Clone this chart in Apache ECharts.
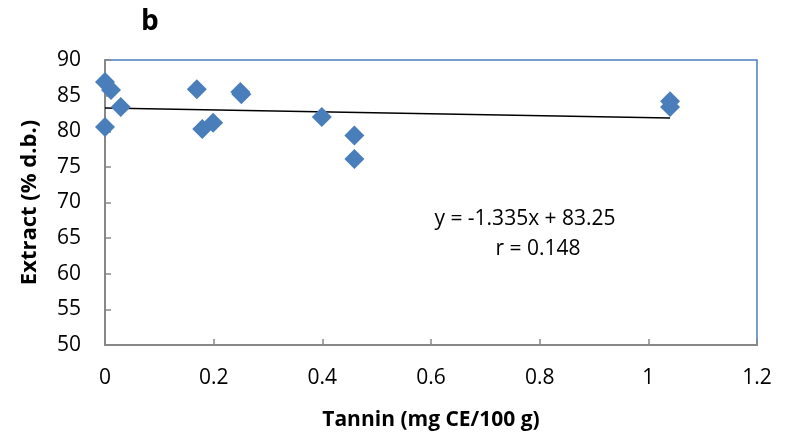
<!DOCTYPE html>
<html>
<head>
<meta charset="utf-8">
<script src="https://cdn.jsdelivr.net/npm/echarts@6/dist/echarts.min.js"></script>
<style>
  html, body { margin: 0; padding: 0; background: #fff; }
  #main { width: 787px; height: 440px; }
</style>
</head>
<body>
<div id="main"></div>
<script>
// tannin (x) vs extract (y)
var tannin = [0, 0.011, 0.029, 0, 0.169, 0.179, 0.199, 0.249, 0.251, 0.399, 0.459, 0.459, 1.04, 1.04];
var extract = [86.9, 85.8, 83.4, 80.6, 85.9, 80.3, 81.2, 85.5, 85.2, 82.0, 79.4, 76.1, 84.2, 83.4];
var slope = -1.335;
var intercept = 83.25;
var fitRange = [0, 1.04];
var xTicks = [0, 0.2, 0.4, 0.6, 0.8, 1, 1.2];
var yTicks = [50, 55, 60, 65, 70, 75, 80, 85, 90];

var font = "'Open Sans', 'Noto Sans', sans-serif";
var myChart = echarts.init(document.getElementById("main"));

var points = tannin.map(function (x, i) { return [x, extract[i]]; });
var fitLine = fitRange.map(function (x) { return [x, slope * x + intercept]; });

var option = {
  animation: false,
  title: {
    text: "b",
    left: 136,
    top: 3,
    textStyle: { fontFamily: font, fontSize: 28, fontWeight: "bold", color: "#000" }
  },
  grid: {
    left: 105, top: 60, right: 30, bottom: 95,
    show: true, borderColor: "#4a7ebb", borderWidth: 1.5, backgroundColor: "#fff"
  },
  xAxis: {
    type: "value",
    min: xTicks[0], max: xTicks[xTicks.length - 1], interval: 0.2,
    name: "Tannin (mg CE/100 g)",
    nameLocation: "middle", nameGap: 65,
    nameTextStyle: { fontFamily: font, fontSize: 21, fontWeight: "bold", color: "#000" },
    axisLine: { lineStyle: { color: "#888", width: 2 } },
    axisTick: { inside: true, length: 6, lineStyle: { color: "#888", width: 1.5 } },
    axisLabel: {
      fontFamily: font, fontSize: 21, color: "#000", margin: 23,
      formatter: function (v) { return String(Math.round(v * 10) / 10); }
    },
    splitLine: { show: false }
  },
  yAxis: {
    type: "value",
    min: yTicks[0], max: yTicks[yTicks.length - 1], interval: 5,
    name: "Extract (% d.b.)",
    nameLocation: "middle", nameGap: 64, nameRotate: 90,
    nameTextStyle: { fontFamily: font, fontSize: 22, fontWeight: "bold", color: "#000" },
    axisLine: { show: true, lineStyle: { color: "#888", width: 2 } },
    axisTick: { show: true, inside: true, length: 6, lineStyle: { color: "#888", width: 1.5 } },
    axisLabel: { fontFamily: font, fontSize: 21, color: "#000", margin: 24 },
    splitLine: { show: false }
  },
  series: [
    {
      type: "line",
      data: fitLine,
      symbol: "none",
      lineStyle: { color: "#000", width: 1.5 },
      z: 3
    },
    {
      type: "scatter",
      data: points,
      symbol: "diamond",
      symbolSize: [20, 20],
      itemStyle: { color: "#4a7ebb", opacity: 1 },
      z: 4
    }
  ],
  graphic: [
    {
      type: "text", x: 525, y: 219,
      style: { text: "y = -1.335x + 83.25", font: "21px " + font, fill: "#000", align: "center", verticalAlign: "middle" }
    },
    {
      type: "text", x: 538, y: 249,
      style: { text: "r = 0.148", font: "21px " + font, fill: "#000", align: "center", verticalAlign: "middle" }
    }
  ]
};

myChart.setOption(option);
</script>
</body>
</html>
